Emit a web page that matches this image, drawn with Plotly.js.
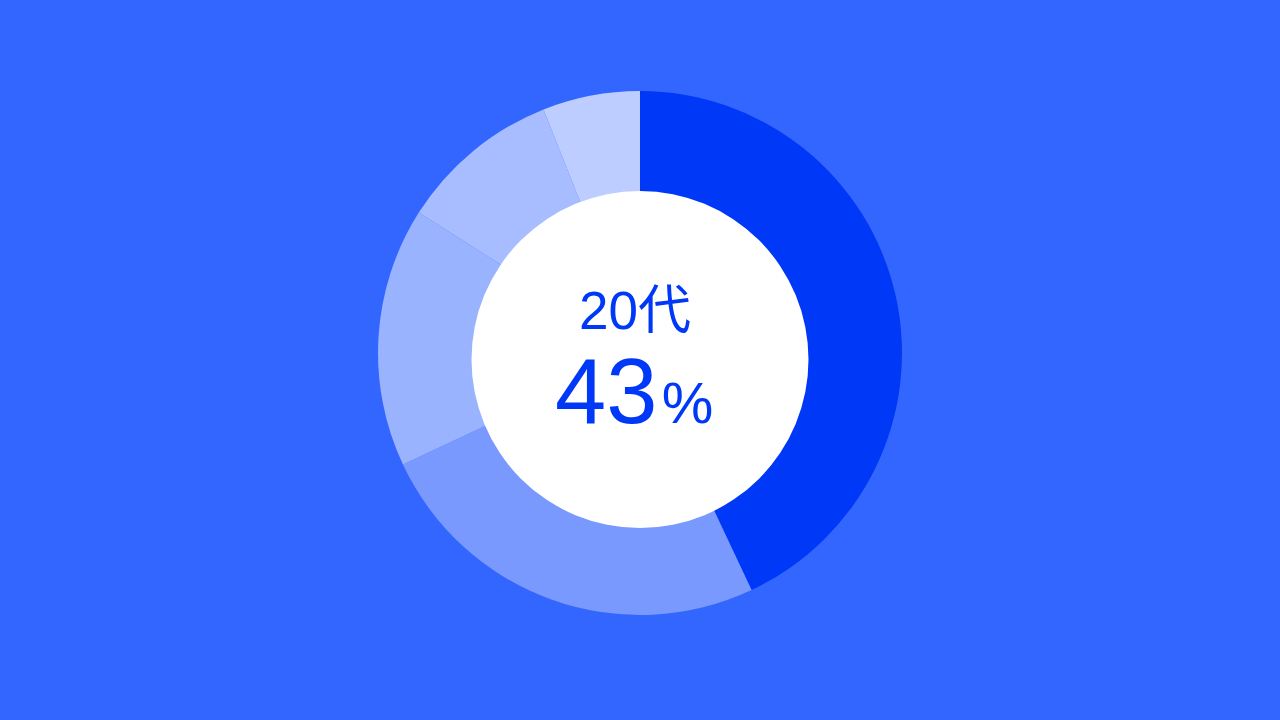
<!DOCTYPE html>
<html>
<head>
<meta charset="utf-8">
<script src="https://cdn.plot.ly/plotly-3.0.1.min.js"></script>
<style>html,body{margin:0;padding:0;background:#3366ff;}#chart{width:1280px;height:720px;}</style>
</head>
<body>
<div id="chart"></div>
<script>
const categories = ['20代', '30代', '40代', '50代', '60代以上'];
const shares = [43, 25, 16, 10, 6];
const sliceColors = ['#0038f7', '#7a99ff', '#99b3ff', '#a8bdff', '#bdcdff'];
const highlightLabel = categories[0];
const highlightValue = shares[0];

const W = 1280, H = 720;
const cx = 640, cy = 353, R = 262;
const hx = 640, hy = 359.5, hr = 168.5;

const trace = {
  type: 'pie',
  labels: categories,
  values: shares,
  sort: false,
  direction: 'clockwise',
  rotation: 0,
  hole: 0.6,
  textinfo: 'none',
  hoverinfo: 'label+percent',
  marker: {colors: sliceColors, line: {width: 0}},
  domain: {x: [(cx - R) / W, (cx + R) / W], y: [1 - (cy + R) / H, 1 - (cy - R) / H]},
  showlegend: false
};

const font = 'Liberation Sans, Arial, Noto Sans CJK JP, sans-serif';
const layout = {
  width: W, height: H,
  margin: {l: 0, r: 0, t: 0, b: 0},
  paper_bgcolor: '#3366ff',
  plot_bgcolor: '#3366ff',
  showlegend: false,
  shapes: [{
    type: 'circle', xref: 'paper', yref: 'paper', layer: 'above',
    x0: (hx - hr) / W, x1: (hx + hr) / W,
    y0: 1 - (hy + hr) / H, y1: 1 - (hy - hr) / H,
    fillcolor: '#ffffff', line: {width: 0}
  }],
  annotations: [
    {text: highlightLabel, xref: 'paper', yref: 'paper', x: 635 / W, y: 1 - 310 / H,
     xanchor: 'center', yanchor: 'middle', showarrow: false,
     font: {family: font, size: 53, color: '#0038f7'}},
    {text: highlightValue + '<span style="font-size:16px"> </span><span style="font-size:58px">%</span>', xref: 'paper', yref: 'paper',
     x: 634 / W, y: 1 - 391 / H, xanchor: 'center', yanchor: 'middle', showarrow: false,
     font: {family: font, size: 92, color: '#0038f7'}}
  ]
};

Plotly.newPlot('chart', [trace], layout, {displayModeBar: false, staticPlot: true});
</script>
</body>
</html>
